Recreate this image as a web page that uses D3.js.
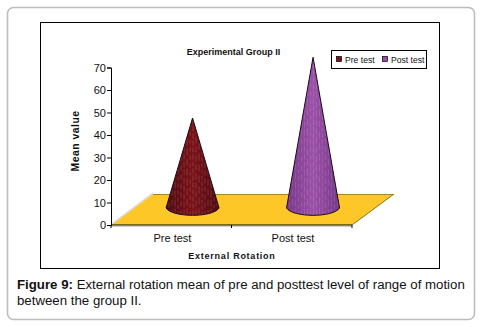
<!DOCTYPE html>
<html><head><meta charset="utf-8">
<script src="https://cdn.jsdelivr.net/npm/d3@7/dist/d3.min.js"></script>
<style>
html,body{margin:0;padding:0;background:#fff}
svg{display:block}
text{font-family:"Liberation Sans",Arial,sans-serif;fill:#111}
</style></head><body>
<svg id="c" width="481" height="327"></svg>
<script>
const categories = ["Pre test","Post test"];
const seriesNames = ["Pre test","Post test"];
const meanValues = [40,67];
const yTicks = [0,10,20,30,40,50,60,70];
const seriesDark = ["#4f0a10","#78388a"];
const seriesMid = ["#7a1218","#9c52a8"];
const legendColors = ["#7a1118","#9a4ea6"];
const chartTitle = "Experimental Group II";
const yTitle = "Mean value";
const xTitle = "External Rotation";

const svg = d3.select("#c");
svg.append("rect").attr("x",7.5).attr("y",7.5).attr("width",467).attr("height",312)
  .attr("rx",6).attr("fill","#fff").attr("stroke","#bdbdbd").attr("stroke-width",1.6);
svg.append("rect").attr("x",40.5).attr("y",22.5).attr("width",399).attr("height",246)
  .attr("fill","#fff").attr("stroke","#000").attr("stroke-width",1);

const y = d3.scaleLinear().domain([0,70]).range([225,67.5]);
const x = d3.scaleBand().domain(categories).range([111,352]);
const depthX = 42, depthY = 31;

const floor = d3.path();
floor.moveTo(x.range()[0],y(0));
floor.lineTo(x.range()[1],y(0));
floor.lineTo(x.range()[1]+depthX,y(0)-depthY);
floor.lineTo(x.range()[0]+depthX,y(0)-depthY);
floor.closePath();
svg.append("path").attr("d",floor.toString()).attr("fill","#fdc827");
svg.append("line").attr("x1",x.range()[0]+depthX).attr("x2",x.range()[1]+depthX)
  .attr("y1",y(0)-depthY+.5).attr("y2",y(0)-depthY+.5).attr("stroke","#a8861c");
svg.append("line").attr("x1",x.range()[1]).attr("x2",x.range()[1]+depthX)
  .attr("y1",y(0)).attr("y2",y(0)-depthY).attr("stroke","#8a7420");
svg.append("line").attr("x1",x.range()[0]+1).attr("x2",x.range()[0]+depthX)
  .attr("y1",y(0)-1).attr("y2",y(0)-depthY-1).attr("stroke","#d8d8d8").attr("stroke-width",1.5);
svg.append("line").attr("x1",x.range()[0]).attr("x2",x.range()[1])
  .attr("y1",y(0)+1.5).attr("y2",y(0)+1.5).attr("stroke","#d0d0d0");

const defs = svg.append("defs");
const baseShiftY = 17, baseShiftX = 21.3, rx = 26.5, ry = 7.5;
meanValues.forEach((v,i)=>{
  const cx = x(categories[i]) + x.bandwidth()/2 + baseShiftX;
  const by = y(0) - baseShiftY;
  const ay = y(v) - baseShiftY;
  const g = defs.append("linearGradient").attr("id","g"+i);
  g.append("stop").attr("offset","0").attr("stop-color",seriesDark[i]);
  g.append("stop").attr("offset","0.5").attr("stop-color",seriesMid[i]);
  g.append("stop").attr("offset","1").attr("stop-color",seriesDark[i]);
  const p = d3.path();
  p.moveTo(cx,ay);
  p.lineTo(cx-rx,by);
  p.bezierCurveTo(cx-rx+6,by+ry*1.3,cx+rx-6,by+ry*1.3,cx+rx,by);
  p.closePath();
  const d = p.toString();
  defs.append("clipPath").attr("id","cl"+i).append("path").attr("d",d);
  svg.append("path").attr("d",d).attr("fill","url(#g"+i+")");
  const tex = svg.append("g").attr("clip-path","url(#cl"+i+")");
  d3.range(-rx,rx+1,3).forEach((o,j)=>{
    tex.append("line").attr("x1",cx+o).attr("x2",cx+o)
      .attr("y1",by+ry).attr("y2",ay)
      .attr("stroke","#fff").attr("stroke-opacity",i?0.12:0.16).attr("stroke-width",1)
      .attr("stroke-dasharray",(4+(j%4))+" "+(2+(j%3)));
  });
  svg.append("path").attr("d",d).attr("fill","none").attr("stroke","#1a0c14").attr("stroke-width",1);
});

const fontFam = '"Liberation Sans",Arial,sans-serif';
const yAxis = svg.append("g").attr("transform","translate(111,0)")
  .call(d3.axisLeft(y).tickValues(yTicks).tickSize(4).tickPadding(1));
yAxis.selectAll("text").attr("font-size",11).style("font-family",fontFam);
yAxis.selectAll("path,line").attr("stroke","#000");
const xAxis = svg.append("g").attr("transform","translate(1.2,225)")
  .call(d3.axisBottom(x).tickSize(0).tickPadding(9));
xAxis.select("path").remove();
xAxis.selectAll("text").attr("font-size",11).style("font-family",fontFam);
svg.append("g").selectAll("line").data([x.range()[0],x.range()[0]+x.bandwidth(),x.range()[1]]).join("line")
  .attr("x1",d=>d).attr("x2",d=>d).attr("y1",225).attr("y2",228).attr("stroke","#000");
svg.append("line").attr("x1",111).attr("x2",352).attr("y1",225).attr("y2",225).attr("stroke","#000");

svg.append("text").attr("x",233.5).attr("y",55).attr("text-anchor","middle")
  .attr("font-size",9).attr("font-weight","bold").text(chartTitle);
svg.append("text").attr("transform","translate(79,141) rotate(-90)").attr("text-anchor","middle")
  .attr("font-size",10.4).attr("font-weight","bold").attr("letter-spacing",0.5).text(yTitle);
svg.append("text").attr("x",232).attr("y",259).attr("text-anchor","middle")
  .attr("font-size",9).attr("font-weight","bold").attr("letter-spacing",0.75).text(xTitle);

svg.append("rect").attr("x",331.5).attr("y",50.5).attr("width",95).attr("height",18)
  .attr("fill","#fff").attr("stroke","#000");
[[336.5,345],[382.5,391]].forEach((q,i)=>{
  svg.append("rect").attr("x",q[0]).attr("y",56.5).attr("width",5).attr("height",5)
    .attr("fill",legendColors[i]).attr("stroke","#000").attr("stroke-width",.7);
  svg.append("text").attr("x",q[1]).attr("y",62.5).attr("font-size",8.6).text(seriesNames[i]);
});

const cap = svg.append("text").attr("x",17).attr("y",289).attr("font-size",13.25);
cap.append("tspan").attr("font-weight","bold").text("Figure 9:");
cap.append("tspan").text(" External rotation mean of pre and posttest level of range of motion");
svg.append("text").attr("x",17).attr("y",305).attr("font-size",13.25).text("between the group II.");
</script>
</body></html>
